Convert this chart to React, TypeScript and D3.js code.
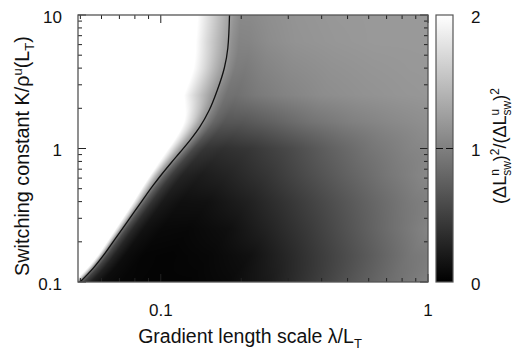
import React, { useMemo } from 'react';
import * as d3 from 'd3';

const W = 517;
const H = 354;
const plot = { left: 78, top: 15, right: 428, bottom: 282 };
const cbar = { left: 436, right: 453 };
const FONT = '"Liberation Sans", Arial, Helvetica, sans-serif';

// the black boundary curve (λ/L_T, K/ρ^u(L_T))
const contourLambda = [0.1808, 0.1782, 0.1729, 0.1628, 0.1519, 0.14, 0.129, 0.1183, 0.1092, 0.101, 0.0933, 0.0855, 0.0757, 0.067, 0.0611, 0.0559, 0.0499];
const contourK = [10, 5.66, 4.01, 2.74, 1.94, 1.45, 1.16, 0.941, 0.779, 0.644, 0.524, 0.411, 0.291, 0.206, 0.159, 0.127, 0.1];

// shading samples: one row per kRows entry, columns at offsets (decades of λ) from the boundary curve
const kRows = [10, 6.31, 3.98, 2.51, 1.58, 1, 0.631, 0.398, 0.251, 0.158, 0.1];
const offsetCols = [-0.4, -0.15, -0.08, -0.04, -0.015, 0, 0.015, 0.04, 0.08, 0.15, 0.25, 0.4, 0.55, 0.7, 0.85, 1.0, 1.15, 1.31];
const ratioRows = [
  [3, 2.2, 1.75, 1.5, 1.35, 1.28, 1.18, 1.08, 1.08, 1.12, 1.16, 1.19, 1.2, 1.2, 1.2, 1.2, 1.2, 1.2],
  [3, 2.2, 1.7, 1.45, 1.3, 1.22, 1.12, 1.03, 1.04, 1.1, 1.15, 1.18, 1.2, 1.2, 1.2, 1.2, 1.2, 1.2],
  [3, 2.25, 1.75, 1.45, 1.28, 1.2, 1.1, 0.98, 0.96, 1.03, 1.09, 1.14, 1.17, 1.19, 1.2, 1.2, 1.2, 1.2],
  [3, 2.25, 1.7, 1.4, 1.22, 1.12, 1.02, 0.9, 0.88, 0.95, 1.02, 1.1, 1.14, 1.17, 1.19, 1.2, 1.2, 1.2],
  [3, 2.6, 2.1, 1.65, 1.3, 1.15, 0.98, 0.8, 0.68, 0.68, 0.76, 0.9, 1.0, 1.07, 1.13, 1.17, 1.2, 1.2],
  [3, 3, 2.4, 1.75, 1.3, 1.1, 0.88, 0.58, 0.42, 0.38, 0.43, 0.58, 0.76, 0.92, 1.04, 1.1, 1.12, 1.12],
  [3, 3, 2.6, 2.0, 1.35, 1.05, 0.76, 0.48, 0.28, 0.22, 0.28, 0.42, 0.6, 0.77, 0.93, 1.07, 1.1, 1.1],
  [3, 3, 2.8, 2.3, 1.6, 1.0, 0.7, 0.4, 0.2, 0.12, 0.13, 0.25, 0.42, 0.6, 0.78, 0.95, 1.07, 1.08],
  [3, 3, 3, 2.5, 1.7, 0.95, 0.6, 0.32, 0.14, 0.07, 0.06, 0.12, 0.28, 0.46, 0.66, 0.86, 1.05, 1.06],
  [3, 3, 3, 2.6, 1.8, 0.9, 0.55, 0.28, 0.1, 0.04, 0.03, 0.06, 0.13, 0.32, 0.52, 0.72, 0.93, 1.04],
  [3, 3, 3, 2.5, 1.7, 0.85, 0.5, 0.25, 0.1, 0.05, 0.03, 0.03, 0.07, 0.2, 0.42, 0.65, 0.85, 1.04],
];

const xMajor = [0.1, 1];
const xMinor = [0.05, 0.06, 0.07, 0.08, 0.09, 0.2, 0.3, 0.4, 0.5, 0.6, 0.7, 0.8, 0.9];
const yMajor = [0.1, 1, 10];
const yMinor = [0.2, 0.3, 0.4, 0.5, 0.6, 0.7, 0.8, 0.9, 2, 3, 4, 5, 6, 7, 8, 9];
const xTickLabels = ['0.1', '1'];
const yTickLabels = ['0.1', '1', '10'];
const cbarTicks = [0, 1, 2];

const x = d3.scaleLog().domain([0.049, 1]).range([plot.left, plot.right]);
const y = d3.scaleLog().domain([0.1, 10]).range([plot.bottom, plot.top]);
const cy = d3.scaleLinear().domain([0, 2]).range([plot.bottom, plot.top]);
const gray = d3.scaleLinear<string>().domain([0, 2]).range(['#000000', '#ffffff']).clamp(true);

const contourPath = d3.line().curve(d3.curveMonotoneY)(
  contourLambda.map((l, i) => [x(l), y(contourK[i])] as [number, number])
) || '';

// sample the drawn curve so the shading follows exactly the same boundary
function sampleCurve(): [number, number][] {
  const ns = 'http://www.w3.org/2000/svg';
  const svg = document.createElementNS(ns, 'svg');
  const p = document.createElementNS(ns, 'path');
  p.setAttribute('d', contourPath);
  svg.appendChild(p);
  document.body.appendChild(svg);
  const len = p.getTotalLength();
  const pts: [number, number][] = [];
  for (let s = 0; s <= 600; s++) {
    const pt = p.getPointAtLength((len * s) / 600);
    pts.push([pt.x, pt.y]);
  }
  document.body.removeChild(svg);
  pts.sort((a, b) => a[1] - b[1]);
  return pts.filter((d, i) => i === 0 || d[1] > pts[i - 1][1] + 1e-6);
}

function useHeatmap() {
  return useMemo(() => {
    const w = plot.right - plot.left;
    const h = plot.bottom - plot.top;
    const canvas = document.createElement('canvas');
    canvas.width = w;
    canvas.height = h;
    const ctx = canvas.getContext('2d')!;
    const img = ctx.createImageData(w, h);
    const pts = sampleCurve();
    const edgePx = d3.scaleLinear().domain(pts.map(d => d[1])).range(pts.map(d => d[0])).clamp(true);
    const rowIdx = d3.scaleLog().domain(kRows).range(d3.range(kRows.length)).clamp(true);
    const colIdx = d3.scaleLinear().domain(offsetCols).range(d3.range(offsetCols.length)).clamp(true);
    for (let j = 0; j < h; j++) {
      const py = plot.top + j + 0.5;
      const fy = rowIdx(y.invert(py));
      const r0 = Math.min(Math.floor(fy), kRows.length - 2);
      const ty = fy - r0;
      const c = Math.log10(x.invert(edgePx(py)));
      for (let i = 0; i < w; i++) {
        const off = Math.log10(x.invert(plot.left + i + 0.5)) - c;
        const fx = colIdx(off);
        const c0 = Math.min(Math.floor(fx), offsetCols.length - 2);
        const tx = fx - c0;
        const a = ratioRows[r0][c0] * (1 - tx) + ratioRows[r0][c0 + 1] * tx;
        const b = ratioRows[r0 + 1][c0] * (1 - tx) + ratioRows[r0 + 1][c0 + 1] * tx;
        const g = d3.rgb(gray(a * (1 - ty) + b * ty)).r;
        const q = (j * w + i) * 4;
        img.data[q] = g;
        img.data[q + 1] = g;
        img.data[q + 2] = g;
        img.data[q + 3] = 255;
      }
    }
    ctx.putImageData(img, 0, 0);
    return canvas.toDataURL();
  }, []);
}

const App: React.FC = () => {
  const href = useHeatmap();
  const tickColor = '#222';

  return (
    <svg width={W} height={H} style={{ position: 'absolute', left: 0, top: 0, background: '#fff' }} fontFamily={FONT}>
      <defs>
        <linearGradient id="cb" x1="0" y1="1" x2="0" y2="0">
          <stop offset="0" stopColor="#000" />
          <stop offset="1" stopColor="#fff" />
        </linearGradient>
        <clipPath id="pc">
          <rect x={plot.left} y={plot.top} width={plot.right - plot.left} height={plot.bottom - plot.top} />
        </clipPath>
      </defs>

      <image href={href} x={plot.left} y={plot.top} width={plot.right - plot.left} height={plot.bottom - plot.top} preserveAspectRatio="none" />
      <path d={contourPath} fill="none" stroke="#111" strokeWidth={1.3} clipPath="url(#pc)" />

      {/* ticks on all four sides, pointing inward */}
      <g stroke={tickColor} strokeWidth={1}>
        {xMajor.map(v => (
          <g key={'xM' + v}>
            <line x1={x(v)} x2={x(v)} y1={plot.bottom} y2={plot.bottom - 8} />
            <line x1={x(v)} x2={x(v)} y1={plot.top} y2={plot.top + 8} />
          </g>
        ))}
        {xMinor.map(v => (
          <g key={'xm' + v}>
            <line x1={x(v)} x2={x(v)} y1={plot.bottom} y2={plot.bottom - 4} />
            <line x1={x(v)} x2={x(v)} y1={plot.top} y2={plot.top + 4} />
          </g>
        ))}
        {yMajor.map(v => (
          <g key={'yM' + v}>
            <line x1={plot.left} x2={plot.left + 8} y1={y(v)} y2={y(v)} />
            <line x1={plot.right} x2={plot.right - 8} y1={y(v)} y2={y(v)} />
          </g>
        ))}
        {yMinor.map(v => (
          <g key={'ym' + v}>
            <line x1={plot.left} x2={plot.left + 4} y1={y(v)} y2={y(v)} />
            <line x1={plot.right} x2={plot.right - 4} y1={y(v)} y2={y(v)} />
          </g>
        ))}
      </g>
      <rect x={plot.left} y={plot.top} width={plot.right - plot.left} height={plot.bottom - plot.top} fill="none" stroke="#555" strokeWidth={1.3} />

      {/* tick labels */}
      <g fontSize={17} fill="#111">
        {xMajor.map((v, i) => (
          <text key={'xl' + v} x={x(v)} y={316} textAnchor="middle">{xTickLabels[i]}</text>
        ))}
        {yMajor.map((v, i) => (
          <text key={'yl' + v} x={62} y={y(v) + 2} dy="0.35em" textAnchor="end">{yTickLabels[i]}</text>
        ))}
        {cbarTicks.map(v => (
          <text key={'cl' + v} x={471} y={cy(v) + 2} dy="0.35em" textAnchor="start">{v}</text>
        ))}
      </g>

      {/* colour bar */}
      <rect x={cbar.left} y={plot.top} width={cbar.right - cbar.left} height={plot.bottom - plot.top} fill="url(#cb)" stroke="#555" strokeWidth={1.2} />
      <line x1={cbar.left} x2={cbar.right} y1={cy(1)} y2={cy(1)} stroke="#111" strokeWidth={1.2} strokeDasharray="7,3" />

      {/* axis titles */}
      <text x={250} y={343} textAnchor="middle" fontSize={19.5} fill="#111">
        Gradient length scale λ/L<tspan dy={5} fontSize={13}>T</tspan>
      </text>
      <text transform={`translate(29,156) rotate(-90)`} textAnchor="middle" fontSize={19.8} fill="#111">
        Switching constant K/ρ<tspan dy={-7} fontSize={13}>u</tspan><tspan dy={7}>(L</tspan><tspan dy={5} fontSize={13}>T</tspan><tspan dy={-5}>)</tspan>
      </text>
      <text transform={`translate(506,146) rotate(-90)`} textAnchor="middle" fontSize={18} fill="#111">
        (ΔL<tspan dy={-7} fontSize={12}>n</tspan><tspan dx={-6.7} dy={12} fontSize={12}>sw</tspan><tspan dy={-5}>)</tspan><tspan dy={-7} fontSize={12}>2</tspan><tspan dy={7}>/(ΔL</tspan><tspan dy={-7} fontSize={12}>u</tspan><tspan dx={-6.7} dy={12} fontSize={12}>sw</tspan><tspan dy={-5}>)</tspan><tspan dy={-7} fontSize={12}>2</tspan>
      </text>
    </svg>
  );
};

export default App;
